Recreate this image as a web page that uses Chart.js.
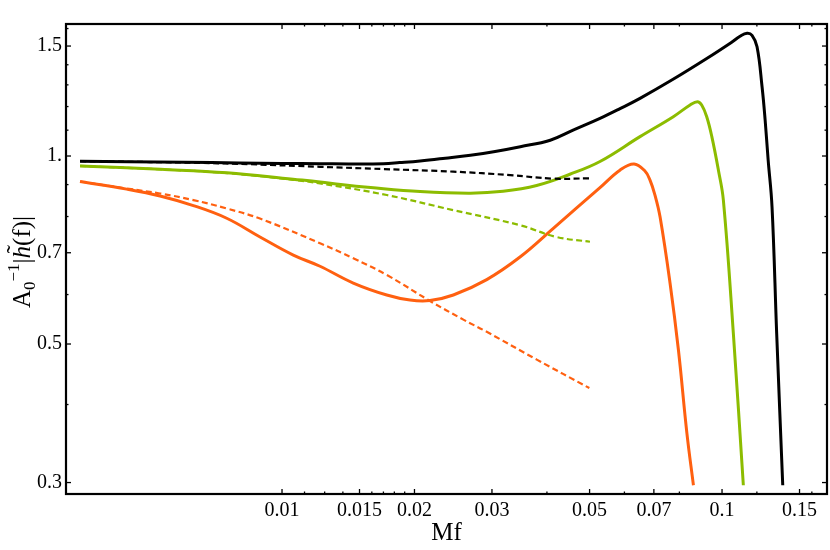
<!DOCTYPE html>
<html><head><meta charset="utf-8">
<script src="https://cdn.jsdelivr.net/npm/chart.js@4/dist/chart.umd.min.js"></script>
<style>html,body{margin:0;padding:0;background:#fff;}canvas{display:block;}</style>
</head><body>
<canvas id="c" width="830" height="550"></canvas>
<script>
// ---- tick values / labels ----
const xMajorTicks = [0.01, 0.015, 0.02, 0.03, 0.05, 0.07, 0.1, 0.15];
const xMajorLabels = ['0.01', '0.015', '0.02', '0.03', '0.05', '0.07', '0.1', '0.15'];
const xMinorTicks = [0.01125, 0.0125, 0.01375, 0.016, 0.017, 0.018, 0.019, 0.04, 0.06, 0.08, 0.12, 0.16];
const yMajorTicks = [0.3, 0.5, 0.7, 1.0, 1.5];
const yMajorLabels = ['0.3', '0.5', '0.7', '1.', '1.5'];
const yMinorTicks = [0.4, 0.6, 0.8, 0.9, 1.1, 1.2, 1.3, 1.4, 1.6];

// ---- series ----
const blackSolidX = [0.003475,0.0045,0.006,0.008,0.010,0.0122,0.0145,0.017,0.0185,0.0206,0.0235,0.0268,0.0305,0.0348,0.0407,0.046,0.0528,0.0585,0.0651,0.0774,0.0925,0.105,0.1099,0.114,0.117,0.1201,0.1233,0.1253,0.1273,0.1299,0.1331,0.1374];
const blackSolidY = [0.981,0.979,0.977,0.975,0.973,0.972,0.971,0.972,0.976,0.982,0.992,1.003,1.017,1.035,1.060,1.101,1.149,1.19,1.237,1.327,1.434,1.52,1.555,1.572,1.56,1.496,1.291,1.142,0.985,0.829,0.52,0.297];

const blackDashedX = [0.003475,0.005,0.0065,0.0085,0.0122,0.017,0.0245,0.033,0.0413,0.0501];
const blackDashedY = [0.981,0.978,0.975,0.970,0.961,0.953,0.944,0.932,0.920,0.921];

const greenSolidX = [0.003475,0.0053,0.0075,0.0106,0.0122,0.0136,0.0159,0.0206,0.0268,0.0318,0.0379,0.0451,0.0528,0.0651,0.0775,0.0846,0.0879,0.0899,0.0923,0.0948,0.0981,0.1007,0.1061,0.1118];
const greenSolidY = [0.964,0.952,0.940,0.918,0.909,0.900,0.890,0.877,0.872,0.878,0.897,0.935,0.980,1.074,1.156,1.207,1.222,1.207,1.156,1.074,0.950,0.85,0.520,0.297];

const greenDashedX = [0.003475,0.0053,0.0075,0.0106,0.0122,0.0173,0.0245,0.0347,0.042,0.0501];
const greenDashedY = [0.964,0.952,0.939,0.916,0.904,0.866,0.819,0.775,0.742,0.729];

const orangeSolidX = [0.003475,0.004436,0.005282,0.006288,0.007486,0.008913,0.01061,0.0122,0.01452,0.0173,0.01954,0.02169,0.02451,0.02919,0.03474,0.04136,0.0528,0.0587,0.0631,0.0668,0.0686,0.0704,0.0723,0.0762,0.0796,0.0832,0.0861];
const orangeSolidY = [0.910,0.885,0.863,0.833,0.795,0.742,0.694,0.666,0.626,0.599,0.588,0.587,0.599,0.634,0.689,0.766,0.890,0.950,0.971,0.946,0.915,0.866,0.799,0.625,0.489,0.360,0.297];

const orangeDashedX = [0.003475,0.00444,0.00528,0.00629,0.00749,0.00891,0.0122,0.01452,0.0173,0.02169,0.02583,0.02919,0.03793,0.04994];
const orangeDashedY = [0.910,0.887,0.871,0.850,0.824,0.794,0.725,0.686,0.645,0.586,0.547,0.523,0.472,0.425];

const BLACK = '#000000', GREEN = 'rgb(140,188,0)', ORANGE = 'rgb(255,96,16)';
const SERIF = '"Liberation Serif", "DejaVu Serif", serif';

const pts = (xs, ys) => xs.map((x, i) => ({x: x, y: ys[i]}));
const solid = (xs, ys, c) => ({data: pts(xs, ys), borderColor: c, borderWidth: 3, fill: false});
const dashed = (xs, ys, c) => ({data: pts(xs, ys), borderColor: c, borderWidth: 2.2, borderDash: [6, 3.5], fill: false});

const framePlugin = {
  id: 'frame',
  afterDatasetsDraw(chart) {
    const {ctx, chartArea: a, scales: {x, y}} = chart;
    ctx.save();
    ctx.strokeStyle = '#000';
    ctx.lineWidth = 1.3;
    const seg = (x1, y1, x2, y2) => { ctx.beginPath(); ctx.moveTo(x1, y1); ctx.lineTo(x2, y2); ctx.stroke(); };
    const xt = (vals, len) => vals.forEach(v => {
      const p = x.getPixelForValue(v);
      seg(p, a.bottom, p, a.bottom - len); seg(p, a.top, p, a.top + len);
    });
    const yt = (vals, len) => vals.forEach(v => {
      const p = y.getPixelForValue(v);
      seg(a.left, p, a.left + len, p); seg(a.right, p, a.right - len, p);
    });
    xt(xMajorTicks, 5); xt(xMinorTicks, 2.5);
    yt(yMajorTicks, 5); yt(yMinorTicks, 2.5);
    ctx.lineWidth = 2.2;
    ctx.strokeRect(a.left, a.top, a.right - a.left, a.bottom - a.top);
    ctx.restore();
  },
  afterDraw(chart) {
    const ctx = chart.ctx;
    const a = chart.chartArea;
    ctx.save();
    ctx.translate(30, (a.top + a.bottom) / 2 + 3);
    ctx.rotate(-Math.PI / 2);
    ctx.fillStyle = '#000';
    ctx.textBaseline = 'alphabetic';
    ctx.textAlign = 'left';
    const big = '25px ' + SERIF, small = '17px ' + SERIF, ital = 'italic 25px ' + SERIF;
    const pieces = [
      {t: 'A', f: big, dy: 0},
      {t: '0', f: small, dy: 5},
      {t: '\u22121', f: small, dy: -11},
      {t: '|', f: big, dy: 0},
      {t: 'h', f: ital, dy: 0, tilde: true},
      {t: '(f)|', f: big, dy: 0}
    ];
    let total = 0;
    pieces.forEach(p => { ctx.font = p.f; p.w = ctx.measureText(p.t).width; total += p.w; });
    let cx = -total / 2;
    pieces.forEach(p => {
      ctx.font = p.f;
      ctx.fillText(p.t, cx, p.dy);
      if (p.tilde) {
        ctx.font = big;
        ctx.textAlign = 'center';
        ctx.fillText('\u02DC', cx + p.w / 2 + 3, -6);
        ctx.textAlign = 'left';
      }
      cx += p.w;
    });
    ctx.restore();
  }
};

new Chart(document.getElementById('c'), {
  type: 'line',
  data: {
    datasets: [
      dashed(orangeDashedX, orangeDashedY, ORANGE),
      dashed(greenDashedX, greenDashedY, GREEN),
      dashed(blackDashedX, blackDashedY, BLACK),
      solid(orangeSolidX, orangeSolidY, ORANGE),
      solid(greenSolidX, greenSolidY, GREEN),
      solid(blackSolidX, blackSolidY, BLACK)
    ]
  },
  options: {
    responsive: false,
    animation: false,
    devicePixelRatio: 1,
    layout: {padding: {left: 0, top: 24, right: 3, bottom: 0}},
    plugins: {legend: {display: false}, tooltip: {enabled: false}},
    elements: {point: {radius: 0}, line: {tension: 0.4, borderCapStyle: 'butt', borderJoinStyle: 'round'}},
    scales: {
      x: {
        type: 'logarithmic', min: 0.003229, max: 0.1732,
        afterBuildTicks: s => { s.ticks = xMajorTicks.map(v => ({value: v})); },
        afterFit: s => { s.height = 56; },
        grid: {display: false, drawTicks: false},
        border: {display: false},
        ticks: {autoSkip: false, maxRotation: 0, padding: 5, color: '#000', font: {family: SERIF, size: 20},
                callback: (v, i) => xMajorLabels[i]},
        title: {display: true, text: 'Mf', color: '#000', font: {family: SERIF, size: 25}, padding: {top: 0, bottom: 2}}
      },
      y: {
        type: 'logarithmic', min: 0.2876, max: 1.627,
        afterBuildTicks: s => { s.ticks = yMajorTicks.map(v => ({value: v})); },
        afterFit: s => { s.width = 66; },
        grid: {display: false, drawTicks: false},
        border: {display: false},
        ticks: {autoSkip: false, padding: 4, color: '#000', font: {family: SERIF, size: 20},
                callback: (v, i) => yMajorLabels[i]}
      }
    }
  },
  plugins: [framePlugin]
});
</script>
</body></html>
